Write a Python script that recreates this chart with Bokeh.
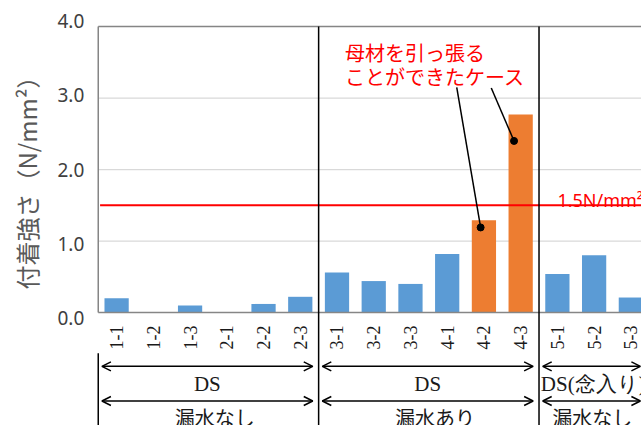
import math
from bokeh.plotting import figure
from bokeh.models import Range1d, Arrow, OpenHead, ColumnDataSource
from bokeh.core.properties import value
from bokeh.embed import file_html
from bokeh.resources import INLINE

# ---------------- data ----------------
categories = ["1-1", "1-2", "1-3", "2-1", "2-2", "2-3",
              "3-1", "3-2", "3-3", "4-1", "4-2", "4-3",
              "5-1", "5-2", "5-3"]
strength = [0.20, 0.0, 0.10, 0.0, 0.12, 0.22,
            0.56, 0.44, 0.40, 0.82, 1.29, 2.77,
            0.54, 0.80, 0.21]
base_material_pulled = [False, False, False, False, False, False,
                        False, False, False, False, True, True,
                        False, False, False]
y_ticks = [0, 1, 2, 3, 4]
y_tick_labels = ["0.0", "1.0", "2.0", "3.0", "4.0"]
threshold = 1.5
threshold_label = "1.5N/mm²"
group_bounds = [-0.5, 5.5, 11.5]
method_labels = ["DS", "DS", "DS(念入り)"]
leak_labels = ["漏水なし", "漏水あり", "漏水なし"]
y_title = "付着強さ（N/mm²）"
note_lines = ["母材を引っ張る", "ことができたケース"]

BLUE = "#5b9bd5"
ORANGE = "#ed7d31"
X_START, X_END = -3.161, 14.29
Y_START, Y_END = -1.58, 4.364
Y_MAX = 4.0

p = figure(width=641, height=425,
           x_range=Range1d(X_START, X_END), y_range=Range1d(Y_START, Y_END),
           output_backend="svg", toolbar_location=None,
           x_axis_location=None, y_axis_location=None,
           min_border=0)
p.outline_line_color = None
p.background_fill_color = "white"
p.border_fill_color = "white"
p.xgrid.visible = False
p.ygrid.visible = False

# gridlines
grid_y = [t for t in y_ticks if 0 < t < Y_MAX]
p.segment(x0=[-0.5] * len(grid_y), y0=grid_y, x1=[X_END] * len(grid_y), y1=grid_y,
          line_color="#d9d9d9", line_width=1.2)

# frame borders (top and left)
p.segment(x0=[-0.5, -0.5], y0=[Y_MAX, 0.0], x1=[X_END, -0.5], y1=[Y_MAX, Y_MAX],
          line_color="#858585", line_width=1.5)

# y tick labels
p.text(x=[-0.88] * len(y_ticks), y=[t + (t - 2) * 0.04 for t in y_ticks], text=y_tick_labels,
       text_font=value("Noto Sans"), text_font_size=value("19px"),
       text_color="#404040", text_align="right", text_baseline="middle")

# y title
p.text(x=[-2.45], y=[1.895], text=[y_title], angle=math.pi / 2,
       text_font=value("Noto Sans CJK JP"), text_font_size=value("24px"),
       text_color="#595959", text_align="center", text_baseline="middle")

# bars
xs = list(range(len(categories)))
src = ColumnDataSource(dict(
    x=xs, top=strength,
    color=[ORANGE if b else BLUE for b in base_material_pulled]))
p.vbar(x="x", top="top", width=0.66, fill_color="color", line_color=None, source=src)

# x axis baseline
p.segment(x0=[-0.5], y0=[0], x1=[X_END], y1=[0], line_color="#868686", line_width=1.5)

# threshold line
p.segment(x0=[-0.45], y0=[threshold], x1=[X_END], y1=[threshold],
          line_color="#ff0000", line_width=2)
p.text(x=[12.0], y=[threshold + 0.07], text=[threshold_label],
       text_font=value("Noto Sans"), text_font_size=value("18px"),
       text_color="#ff0000", text_align="left", text_baseline="alphabetic")

# group separators (from the top border down to the bottom edge)
seps = group_bounds[1:]
p.segment(x0=seps, y0=[Y_MAX] * len(seps), x1=seps, y1=[Y_START - 0.1] * len(seps),
          line_color="black", line_width=1.5)
p.segment(x0=[-0.5], y0=[-0.57], x1=[-0.5], y1=[Y_START - 0.1], line_color="black", line_width=1.5)

# category labels
p.text(x=xs, y=[-0.18] * len(xs), text=categories, angle=math.pi / 2,
       text_font=value("Liberation Serif"), text_font_size=value("18px"),
       text_color="#1a1a1a", text_align="right", text_baseline="middle")

# group arrows and labels
starts = group_bounds
ends = group_bounds[1:] + [X_END]
for i, (s, e) in enumerate(zip(starts, ends)):
    a0 = s + 0.1
    a1 = e - 0.16 if i < 2 else e - 0.03
    for yy in (-0.752, -1.237):
        p.add_layout(Arrow(start=OpenHead(size=9, line_width=1.5, line_color="black"),
                           end=OpenHead(size=9, line_width=1.5, line_color="black"),
                           x_start=a0, y_start=yy, x_end=a1, y_end=yy,
                           line_color="black", line_width=1.5))
    if i < 2:
        mid = (a0 + a1) / 2
        p.text(x=[mid], y=[-0.993], text=[method_labels[i]],
               text_font=value("Liberation Serif"), text_font_size=value("21px"),
               text_color="#1a1a1a", text_align="center", text_baseline="middle")
        p.text(x=[mid + 0.2], y=[-1.47], text=[leak_labels[i]],
               text_font=value("Noto Sans CJK JP"), text_font_size=value("20px"),
               text_color="#1a1a1a", text_align="center", text_baseline="middle")
    else:
        p.text(x=[s + 0.05], y=[-0.993], text=[method_labels[i]],
               text_font=value("Liberation Serif"), text_font_size=value("21px"),
               text_color="#1a1a1a", text_align="left", text_baseline="middle")
        p.text(x=[s + 0.36], y=[-1.47], text=[leak_labels[i]],
               text_font=value("Noto Sans CJK JP"), text_font_size=value("20px"),
               text_color="#1a1a1a", text_align="left", text_baseline="middle")

# annotation: leader lines to the orange bars
hi = [i for i, b in enumerate(base_material_pulled) if b]
lead_x0 = [9.26, 10.20]
lead_y0 = [3.15, 3.14]
lead_x1 = [hi[0] - 0.09, hi[1] - 0.18]
lead_y1 = [strength[hi[0]] - 0.10, strength[hi[1]] - 0.37]
p.segment(x0=lead_x0, y0=lead_y0, x1=lead_x1, y1=lead_y1, line_color="black", line_width=1.5)
p.scatter(x=lead_x1, y=lead_y1, size=7, fill_color="black", line_color="black")
p.text(x=[6.22, 6.22], y=[3.636, 3.30], text=note_lines,
       text_font=value("Noto Sans CJK JP"), text_font_size=value("20px"),
       text_color="#ff0000", text_align="left", text_baseline="middle")

open("out.html", "w").write(file_html(p, INLINE))
